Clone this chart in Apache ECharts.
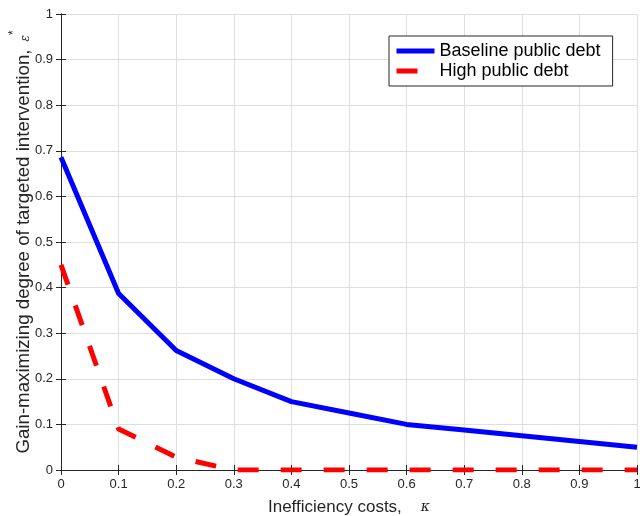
<!DOCTYPE html>
<html><head><meta charset="utf-8">
<script src="https://cdn.jsdelivr.net/npm/echarts@6/dist/echarts.min.js"></script>
<style>html,body{margin:0;padding:0;background:#fff}#c{width:640px;height:516px}</style>
</head><body><div id="c"></div>
<script>
const kappa = [0, 0.1, 0.2, 0.3, 0.4, 0.5, 0.6, 0.7, 0.8, 0.9, 1.0];
const baseline = [0.686, 0.387, 0.262, 0.2, 0.15, 0.125, 0.1, 0.0875, 0.075, 0.0625, 0.05];
const highDebt = [0.45, 0.09, 0.028, 0, 0, 0, 0, 0, 0, 0, 0];
const seriesNames = ['Baseline public debt', 'High public debt'];
const xTitle = 'Inefficiency costs,';
const yTitle = 'Gain-maximizing degree of targeted intervention,';

const pair = (xs, ys) => xs.map((x, i) => [x, ys[i]]);
const font = 'Liberation Sans, Arial, Helvetica, sans-serif';
const axisCol = '#262626';
const chart = echarts.init(document.getElementById('c'), null, {renderer: 'canvas'});
const baseAxis = {
  min: 0, max: 1, interval: 0.1,
  axisLine: {show: true, lineStyle: {color: axisCol, width: 1}},
  axisTick: {show: true, inside: true, length: 5, lineStyle: {color: axisCol}},
  splitLine: {show: false},
};
const fmt = v => (Math.round(v * 10) / 10).toString();
chart.setOption({
  animation: false,
  textStyle: {fontFamily: font},
  grid: {left: 61, right: 3, top: 14, bottom: 46, containLabel: false, outerBoundsMode: 'none'},
  legend: {
    left: 389, top: 36, orient: 'vertical',
    backgroundColor: '#fff', borderColor: axisCol, borderWidth: 1,
    padding: [6, 12, 6, 5], itemGap: 2, itemWidth: 38, itemHeight: 20,
    itemStyle: {opacity: 0},
    lineStyle: {width: 5},
    textStyle: {fontSize: 18, color: '#000', fontFamily: font},
    data: seriesNames
  },
  xAxis: [
    Object.assign({}, baseAxis, {
      type: 'value', position: 'bottom',
      axisLabel: {fontSize: 13, color: axisCol, margin: 8, formatter: fmt},
      splitLine: {show: true, lineStyle: {color: '#dedede', width: 1}},
      name: '{t|' + xTitle + '}{g|κ}', nameLocation: 'middle', nameGap: 29, nameMoveOverlap: false,
      nameTextStyle: {rich: {t: {fontSize: 17, color: axisCol, fontFamily: font},
        g: {fontSize: 14, color: axisCol, fontStyle: 'italic', fontFamily: 'DejaVu Serif, serif', padding: [0, 0, 0, 19]}}}
    }),
    Object.assign({}, baseAxis, {type: 'value', position: 'top', axisLabel: {show: false}})
  ],
  yAxis: [
    Object.assign({}, baseAxis, {
      type: 'value', position: 'left',
      axisLabel: {fontSize: 13, color: axisCol, margin: 8, formatter: fmt},
      splitLine: {show: true, lineStyle: {color: '#dedede', width: 1}},
      name: '{t|' + yTitle + '}{g|ε}{s|*}', nameLocation: 'middle', nameGap: 21, nameMoveOverlap: false,
      nameTextStyle: {rich: {
        t: {fontSize: 18.7, color: axisCol, fontFamily: font},
        g: {fontSize: 12, color: axisCol, fontStyle: 'italic', fontFamily: 'DejaVu Serif, serif', padding: [4, 0, 0, 8]},
        s: {fontSize: 12, color: axisCol, fontFamily: font, padding: [0, 0, 20, 0]}
      }}
    }),
    Object.assign({}, baseAxis, {type: 'value', position: 'right', axisLabel: {show: false}})
  ],
  series: [
    {name: seriesNames[0], type: 'line', data: pair(kappa, baseline), showSymbol: false, symbol: 'none',
     lineStyle: {color: '#0000ff', width: 5}, itemStyle: {color: '#0000ff'}, z: 3},
    {name: seriesNames[1], type: 'line', data: pair(kappa, highDebt), showSymbol: false, symbol: 'none',
     lineStyle: {color: '#ff0000', width: 5, type: [21, 22]}, itemStyle: {color: '#ff0000'}, z: 4}
  ]
});
</script></body></html>
